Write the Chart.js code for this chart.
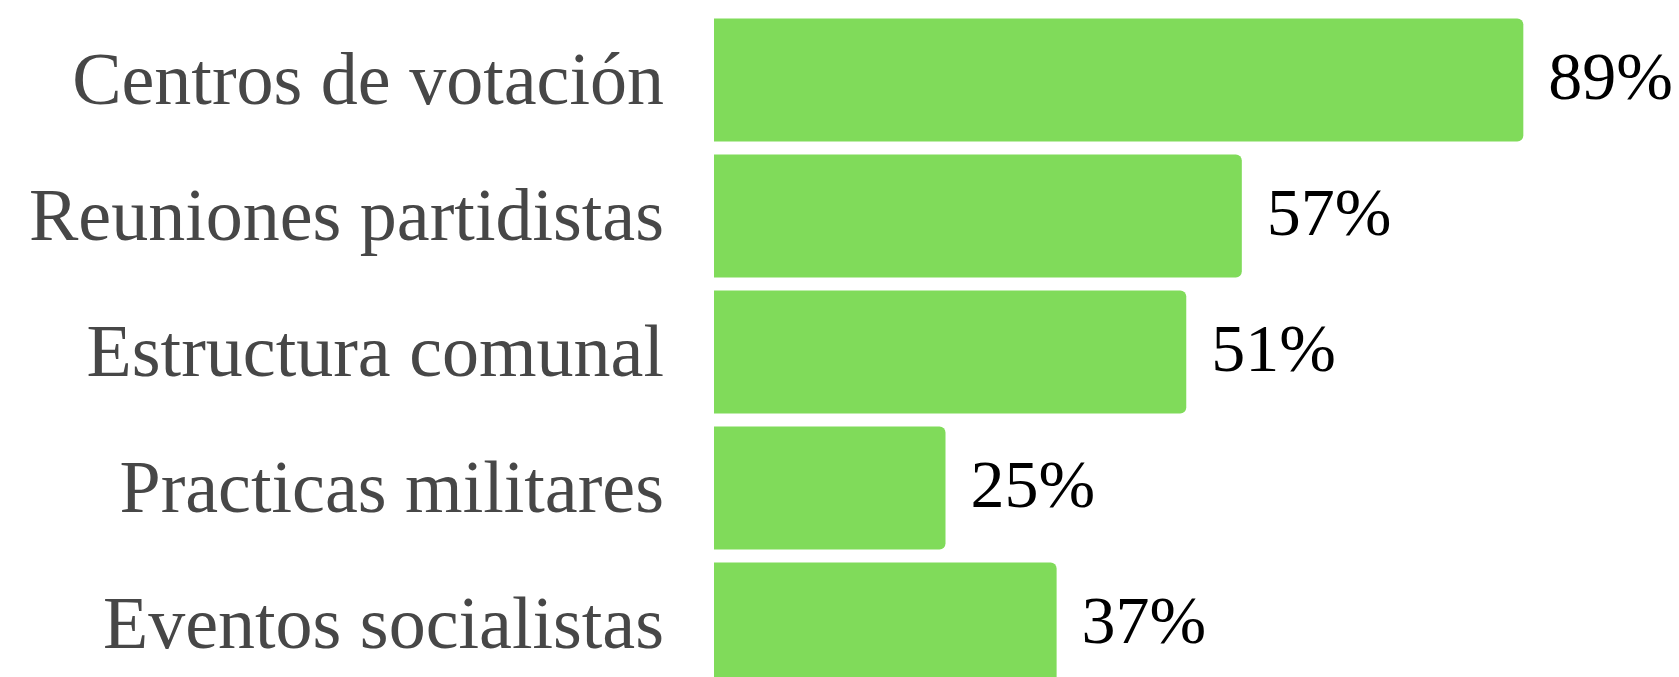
<!DOCTYPE html>
<html>
<head>
<meta charset="utf-8">
<script src="https://cdn.jsdelivr.net/npm/chart.js@4.4.1/dist/chart.umd.min.js"></script>
<style>
  html, body { margin: 0; padding: 0; background: #fff; overflow: hidden; }
  #wrap { position: relative; width: 1679px; height: 692px; }
</style>
</head>
<body>
<div id="wrap"><canvas id="chart"></canvas></div>
<script>
const categories  = ['Centros de votación', 'Reuniones partidistas', 'Estructura comunal', 'Practicas militares', 'Eventos socialistas'];
const barValues   = [87.4, 57, 51, 25, 37];
const valueLabels = ['89%', '57%', '51%', '25%', '37%'];

const BAR_COLOR = '#80db5a';

// draws the percent text just past the end of every bar
const valueLabelPlugin = {
    id: 'valueLabels',
    afterDatasetsDraw(chart) {
        const { ctx } = chart;
        const meta = chart.getDatasetMeta(0);
        ctx.save();
        ctx.font = '68px "Liberation Serif", serif';
        ctx.fillStyle = '#000';
        ctx.textAlign = 'left';
        ctx.textBaseline = 'middle';
        meta.data.forEach((bar, i) => {
            ctx.fillText(valueLabels[i], bar.x + 25, bar.y + 1);
        });
        ctx.restore();
    }
};

new Chart(document.getElementById('chart'), {
    type: 'bar',
    data: {
        labels: categories,
        datasets: [{
            data: barValues,
            backgroundColor: BAR_COLOR,
            borderWidth: 0,
            borderRadius: 6,
            borderSkipped: 'start',
            categoryPercentage: 1,
            barPercentage: 0.904,
        }],
    },
    options: {
        indexAxis: 'y',
        responsive: true,
        maintainAspectRatio: false,
        animation: false,
        layout: { padding: { top: 12, right: 39, bottom: 0, left: 0 } },
        plugins: { legend: { display: false }, tooltip: { enabled: false } },
        scales: {
            x: { display: false, min: 0, max: 100 },
            y: {
                grid: { display: false, drawTicks: false },
                border: { display: false },
                ticks: {
                    color: '#474747',
                    padding: 50,
                    labelOffset: 5,
                    font: { family: '"Liberation Serif", serif', size: 74 },
                },
                afterFit(scale) {
                    scale.width = 714;
                    // big labels would otherwise push the bars inward
                    scale.paddingTop = 0;
                    scale.paddingBottom = 0;
                },
            },
        },
    },
    plugins: [valueLabelPlugin],
});
</script>
</body>
</html>
